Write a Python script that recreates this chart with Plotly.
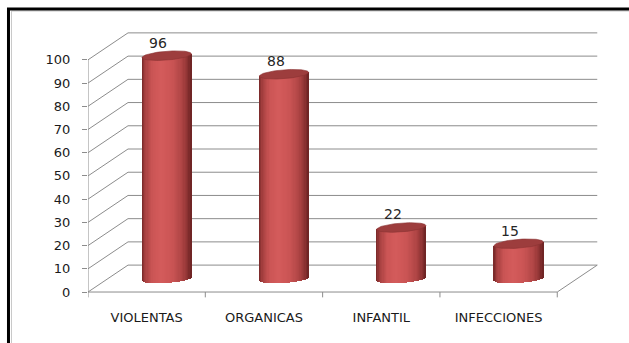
import numpy as np
import plotly.graph_objects as go

# Data
categories = ["VIOLENTAS", "ORGANICAS", "INFANTIL", "INFECCIONES"]
values = [96, 88, 22, 15]
y_ticks = list(range(0, 101, 10))

# Pseudo-3D geometry (in axis units)
DEPTH_X = 0.341      # horizontal depth of the floor / walls (category units)
DEPTH_Y = 11.6       # vertical depth of the floor / walls (value units)
RADIUS_X = 0.21      # cylinder half width
RADIUS_Y = 1.9       # cylinder cap half height
TILT = 0.8           # slight perspective tilt of the caps
N_STRIPS = 40

GRID = "#8c8c8c"
FONT = "DejaVu Sans"

n = len(categories)
xs = np.arange(n, dtype=float)
vals = np.array(values, dtype=float)
mid_x = DEPTH_X / 2
mid_y = DEPTH_Y / 2

# horizontal shading profile across a cylinder
stops = [(0.00, (0x74, 0x26, 0x26)), (0.07, (0xA6, 0x40, 0x40)),
         (0.22, (0xCB, 0x55, 0x55)), (0.40, (0xD4, 0x5B, 0x5B)),
         (0.62, (0xCA, 0x54, 0x54)), (0.82, (0xAE, 0x44, 0x44)),
         (0.93, (0x8E, 0x33, 0x33)), (1.00, (0x6A, 0x22, 0x22))]


def shade(t):
    for (t0, c0), (t1, c1) in zip(stops[:-1], stops[1:]):
        if t <= t1:
            f = (t - t0) / (t1 - t0)
            c = [round(a + (b - a) * f) for a, b in zip(c0, c1)]
            return "rgb(%d,%d,%d)" % tuple(c)
    return "rgb(%d,%d,%d)" % stops[-1][1]


fig = go.Figure()

# cylinder bodies, built from thin vertical strips
step = 2.0 / N_STRIPS
for k in range(N_STRIPS):
    u0 = -1 + k * step
    um = u0 + step / 2
    left = u0 * RADIUS_X
    width = min(step * RADIUS_X * 1.6, RADIUS_X - left)
    sag = RADIUS_Y * np.sqrt(max(0.0, 1 - um * um))
    base = np.full(n, mid_y - sag + TILT * um)
    top = vals + mid_y + TILT * um
    fig.add_trace(go.Bar(
        x=xs, y=top - base, base=base,
        offset=mid_x + left, width=width,
        marker=dict(color=shade((um + 1) / 2), line=dict(width=0)),
        hoverinfo="skip", showlegend=False,
    ))

# cylinder caps
theta = np.linspace(0, 2 * np.pi, 80)
for x, v in zip(xs, vals):
    cx = x + mid_x + RADIUS_X * np.cos(theta)
    cy = v + mid_y + RADIUS_Y * np.sin(theta) + TILT * np.cos(theta)
    fig.add_trace(go.Scatter(
        x=cx, y=cy, mode="lines", fill="toself",
        fillcolor="#9d3d3d", line=dict(color="#8a3232", width=0.6),
        hoverinfo="skip", showlegend=False,
    ))

# value labels on top of each cylinder
for x, v in zip(xs, vals):
    fig.add_annotation(
        x=x + mid_x - 0.07, y=v + mid_y + RADIUS_Y - 0.6,
        text=str(int(v)), showarrow=False, yanchor="bottom",
        font=dict(family=FONT, size=14, color="#262626"),
    )

# back wall gridlines, side-wall diagonals, floor and axis lines
shapes = []
x_left = -0.5
x_right = n - 0.5
for v in y_ticks:
    shapes.append(dict(type="line", xref="x", yref="y", layer="below",
                       x0=x_left + DEPTH_X, x1=x_right + DEPTH_X,
                       y0=v + DEPTH_Y, y1=v + DEPTH_Y,
                       line=dict(color=GRID, width=1)))
    shapes.append(dict(type="line", xref="x", yref="y", layer="below",
                       x0=x_left, x1=x_left + DEPTH_X,
                       y0=v, y1=v + DEPTH_Y,
                       line=dict(color=GRID, width=1)))
shapes.append(dict(type="line", xref="x", yref="y", layer="below",
                   x0=x_left, x1=x_left, y0=y_ticks[0], y1=y_ticks[-1],
                   line=dict(color=GRID, width=1)))
shapes.append(dict(type="line", xref="x", yref="y", layer="below",
                   x0=x_left, x1=x_right, y0=0, y1=0,
                   line=dict(color=GRID, width=1)))
shapes.append(dict(type="line", xref="x", yref="y", layer="below",
                   x0=x_right, x1=x_right + DEPTH_X, y0=0, y1=DEPTH_Y,
                   line=dict(color=GRID, width=1)))
for k in range(n + 1):
    shapes.append(dict(type="line", xref="x", yref="y", layer="below",
                       x0=x_left + k, x1=x_left + k, y0=0, y1=-2.3,
                       line=dict(color=GRID, width=1)))

# chart frame (runs off the right and bottom edges of the page)
shapes.append(dict(type="rect", xref="paper", yref="paper",
                   x0=-0.1538, x1=1.25, y0=-0.35, y1=1.0584,
                   line=dict(color="#000000", width=3), layer="above"))
shapes.append(dict(type="rect", xref="paper", yref="paper",
                   x0=-0.1480, x1=1.25, y0=-0.35, y1=1.0510,
                   line=dict(color="#c8c8c8", width=1), layer="below"))

fig.update_layout(
    width=629, height=343,
    margin=dict(l=88, r=24, t=25, b=44),
    paper_bgcolor="white", plot_bgcolor="white",
    barmode="overlay", bargap=0,
    showlegend=False,
    shapes=shapes,
    xaxis=dict(
        range=[-0.5, 3.907], tickvals=list(xs), ticktext=categories,
        ticks="outside", ticklen=6, tickcolor="rgba(0,0,0,0)",
        showgrid=False, zeroline=False, showline=False,
        tickfont=dict(family=FONT, size=13, color="#1a1a1a"),
        fixedrange=True,
    ),
    yaxis=dict(
        range=[-3, 115], tickvals=y_ticks,
        ticks="outside", ticklen=5, tickcolor=GRID,
        ticklabelstandoff=9,
        showgrid=False, zeroline=False, showline=False,
        tickfont=dict(family=FONT, size=13, color="#1a1a1a"),
        fixedrange=True,
    ),
)

fig.write_html("out.html")
